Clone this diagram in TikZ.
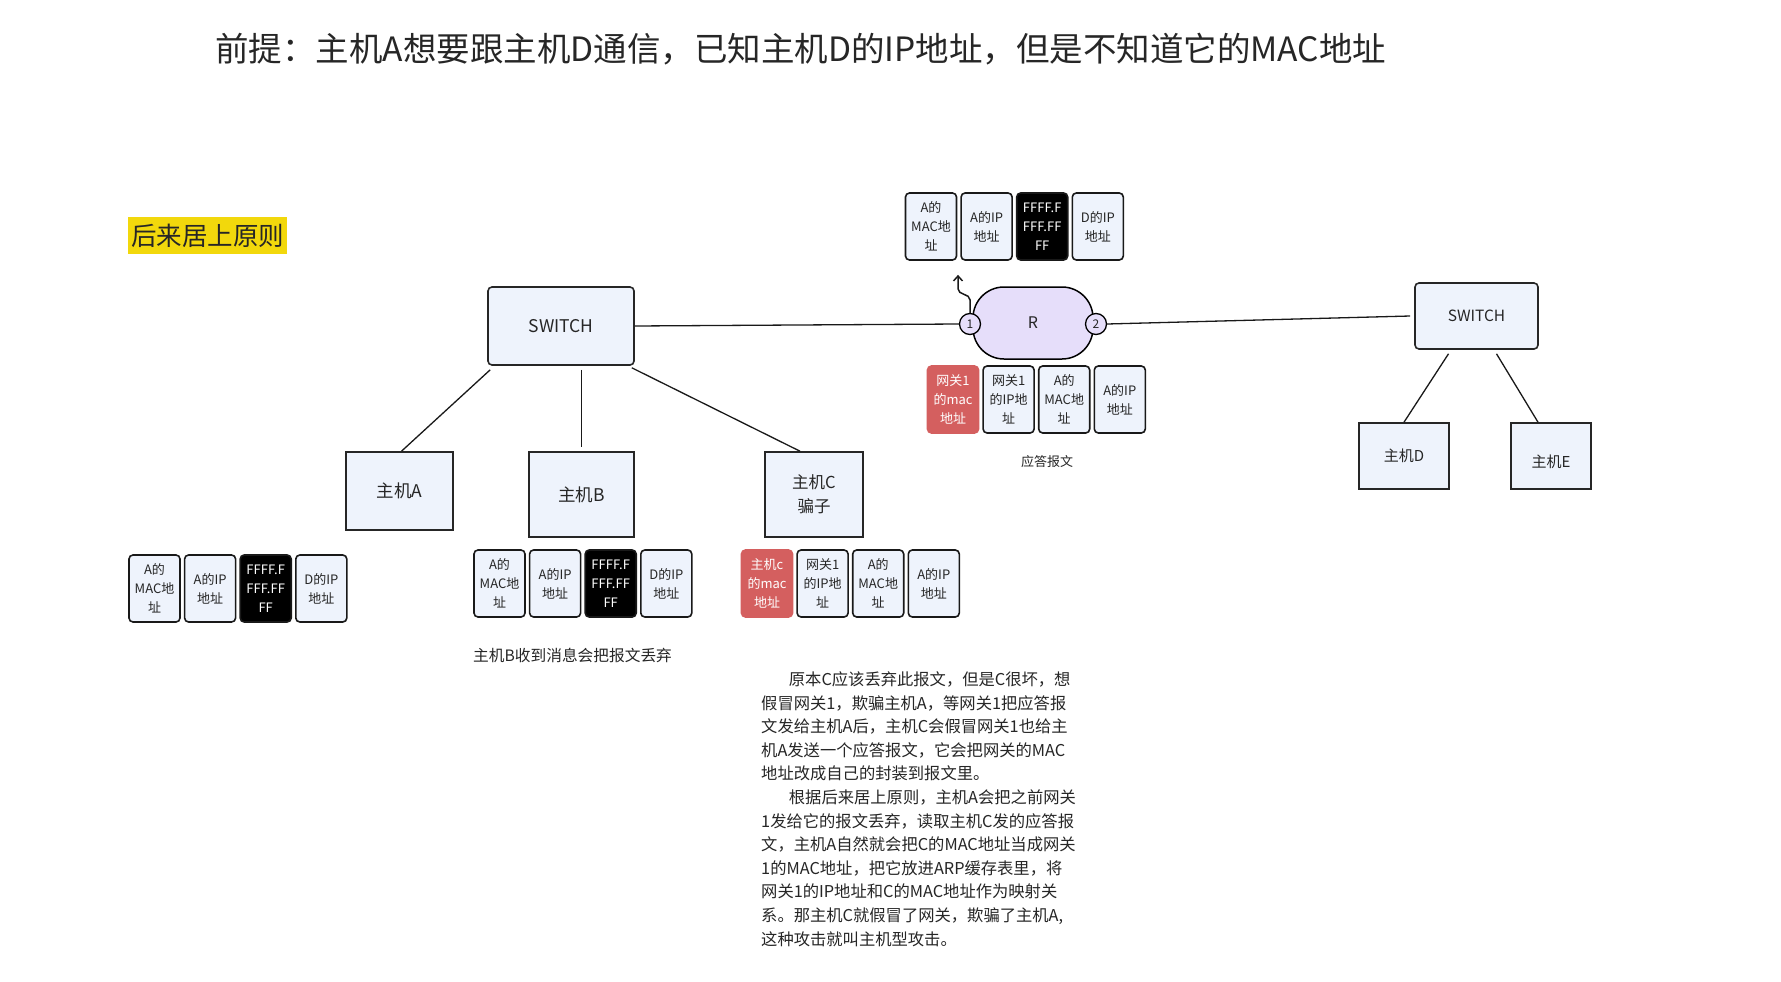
\documentclass[tikz,border=0pt]{standalone}
\usepackage{fontspec}
\setmainfont{Noto Sans CJK SC}
\usetikzlibrary{arrows.meta,positioning,calc}
\definecolor{arpFill}{HTML}{EEF3FC}
\definecolor{arpRed}{HTML}{D45F5F}
\definecolor{arpRouter}{HTML}{E6DEFA}
\definecolor{arpYellow}{HTML}{F2D80C}
\definecolor{arpText}{HTML}{262626}
\tikzset{
  host/.style={
    draw=black!85, line width=1.6pt, fill=arpFill, align=center, text=arpText,
    font=\fontsize{17.5}{23}\selectfont, inner sep=0pt
  },
  switchbox/.style={host, rounded corners=4pt},
  cell/.style={
    draw=black!90, line width=1.6pt, rounded corners=4pt, fill=arpFill,
    minimum width=51pt, minimum height=67pt, inner sep=0pt, align=center,
    font=\fontsize{13}{19}\selectfont, text=arpText
  },
  bcast/.style={cell, fill=black, text=white},
  fake/.style={cell, fill=arpRed, draw=arpRed, text=white},
  port/.style={circle, draw=black, line width=1.3pt, fill=arpRouter, minimum size=21pt,
    inner sep=0pt, font=\fontsize{12}{12}\selectfont, text=arpText},
  link/.style={line width=1.3pt, black!90},
  note/.style={text=arpText, align=left, inner sep=0pt}
}

\begin{document}
\begin{tikzpicture}[x=1pt, y=-1pt, node distance=3pt]
  \useasboundingbox (0,0) rectangle (1781,982);
  \fill[white] (0,0) rectangle (1781,982);

  % titles
  \node[note, anchor=west, font=\fontsize{33.5}{38}\selectfont] (title) at (215,49)
    {前提：主机A想要跟主机D通信，已知主机D的IP地址，但是不知道它的MAC地址};
  \node[fill=arpYellow, minimum width=159pt, minimum height=37pt, inner sep=0pt,
    text=arpText, font=\fontsize{25.5}{30}\selectfont] (rule) at (207.5,235.5) {后来居上原则};

  % left network
  \node[switchbox, minimum width=146pt, minimum height=78pt] (swL) at (561,326) {SWITCH};
  \node[host, minimum width=107pt, minimum height=78pt] (hA) at (399.5,491) {主机A};
  \node[host, minimum width=105pt, minimum height=85pt] (hB) at (581.5,494.5) {主机B};
  \node[host, minimum width=98pt, minimum height=85pt, font=\fontsize{16.5}{24}\selectfont] (hC) at (814,494.5) {主机C\\骗子};

  % router
  \node[draw=black, line width=1.5pt, fill=arpRouter, rounded corners=31pt, minimum width=120pt,
    minimum height=72pt, text=arpText, font=\fontsize{16}{16}\selectfont] (R) at (1033,323) {R};
  \node[port] (p1) at (970,324) {1};
  \node[port] (p2) at (1096,324) {2};

  % right network
  \node[switchbox, minimum width=123pt, minimum height=66pt, font=\fontsize{15.5}{20}\selectfont] (swR) at (1476.5,316) {SWITCH};
  \node[host, minimum width=90pt, minimum height=66pt, font=\fontsize{15}{20}\selectfont] (hD) at (1404,456) {主机D};
  \node[host, minimum width=80pt, minimum height=66pt, font=\fontsize{15}{20}\selectfont] (hE) at (1551,456) {\raisebox{-6pt}[\height][\depth]{主机E}};

  % links
  \draw[link] ([shift={(3,4)}]swL.south west) -- ([xshift=2pt]hA.north);
  \draw[link] ([yshift=-4pt]swL.south -| hB.north) -- ([yshift=4pt]hB.north);
  \draw[link] ([shift={(-3,2)}]swL.south east) -- ([xshift=-14pt]hC.north);
  \draw[link] (swL.east) -- (p1.west);
  \draw[link] (p2.east) -- ([xshift=-4pt]swR.west);
  \draw[link] ([shift={(-28,4)}]swR.south) -- (hD.north);
  \draw[link] ([shift={(20,4)}]swR.south) -- ([xshift=-13pt]hE.north);
  \draw[link, line width=1.5pt, -{Straight Barb[length=5pt,width=9pt]}]
    (p1.north) -- ++(0,-13) to[out=90, in=-90] ++(-12,-11) -- ++(0,-14);

  % request packet above R
  \node[cell] (q1) at (931,226.5) {A的\\MAC地\\址};
  \node[cell, right=of q1] (q2) {A的IP\\地址};
  \node[bcast, right=of q2] (q3) {FFFF.F\\FFF.FF\\FF};
  \node[cell, right=of q3] (q4) {D的IP\\地址};

  % reply packet below R
  \node[fake] (g1) at (953,399.5) {网关1\\的mac\\地址};
  \node[cell, right=of g1] (g2) {网关1\\的IP地\\址};
  \node[cell, right=of g2] (g3) {A的\\MAC地\\址};
  \node[cell, right=of g3] (g4) {A的IP\\地址};
  \node[note, font=\fontsize{13}{16}\selectfont] (reply) at (1047,462) {应答报文};

  % packet at host A
  \node[cell] (a1) at (154.5,588.5) {A的\\MAC地\\址};
  \node[cell, right=of a1] (a2) {A的IP\\地址};
  \node[bcast, right=of a2] (a3) {FFFF.F\\FFF.FF\\FF};
  \node[cell, right=of a3] (a4) {D的IP\\地址};

  % packet at host B
  \node[cell] (b1) at (499.5,583.5) {A的\\MAC地\\址};
  \node[cell, right=of b1] (b2) {A的IP\\地址};
  \node[bcast, right=of b2] (b3) {FFFF.F\\FFF.FF\\FF};
  \node[cell, right=of b3] (b4) {D的IP\\地址};
  \node[note, anchor=west, font=\fontsize{15.7}{20}\selectfont] (dropB) at (473,655) {主机B收到消息会把报文丢弃};

  % forged packet at host C
  \node[fake] (c1) at (767,583.5) {主机c\\的mac\\地址};
  \node[cell, right=of c1] (c2) {网关1\\的IP地\\址};
  \node[cell, right=of c2] (c3) {A的\\MAC地\\址};
  \node[cell, right=of c3] (c4) {A的IP\\地址};

  % explanation
  \node[note, anchor=north west, font=\fontsize{16.3}{23.6}\selectfont] (expl) at (761,671.5) {%
    \hspace*{1.7em}原本C应该丢弃此报文，但是C很坏，想\\
    假冒网关1，欺骗主机A，等网关1把应答报\\
    文发给主机A后，主机C会假冒网关1也给主\\
    机A发送一个应答报文，它会把网关的MAC\\
    地址改成自己的封装到报文里。\\
    \hspace*{1.7em}根据后来居上原则，主机A会把之前网关\\
    1发给它的报文丢弃，读取主机C发的应答报\\
    文，主机A自然就会把C的MAC地址当成网关\\
    1的MAC地址，把它放进ARP缓存表里，将\\
    网关1的IP地址和C的MAC地址作为映射关\\
    系。那主机C就假冒了网关，欺骗了主机A,\\
    这种攻击就叫主机型攻击。};
\end{tikzpicture}
\end{document}
